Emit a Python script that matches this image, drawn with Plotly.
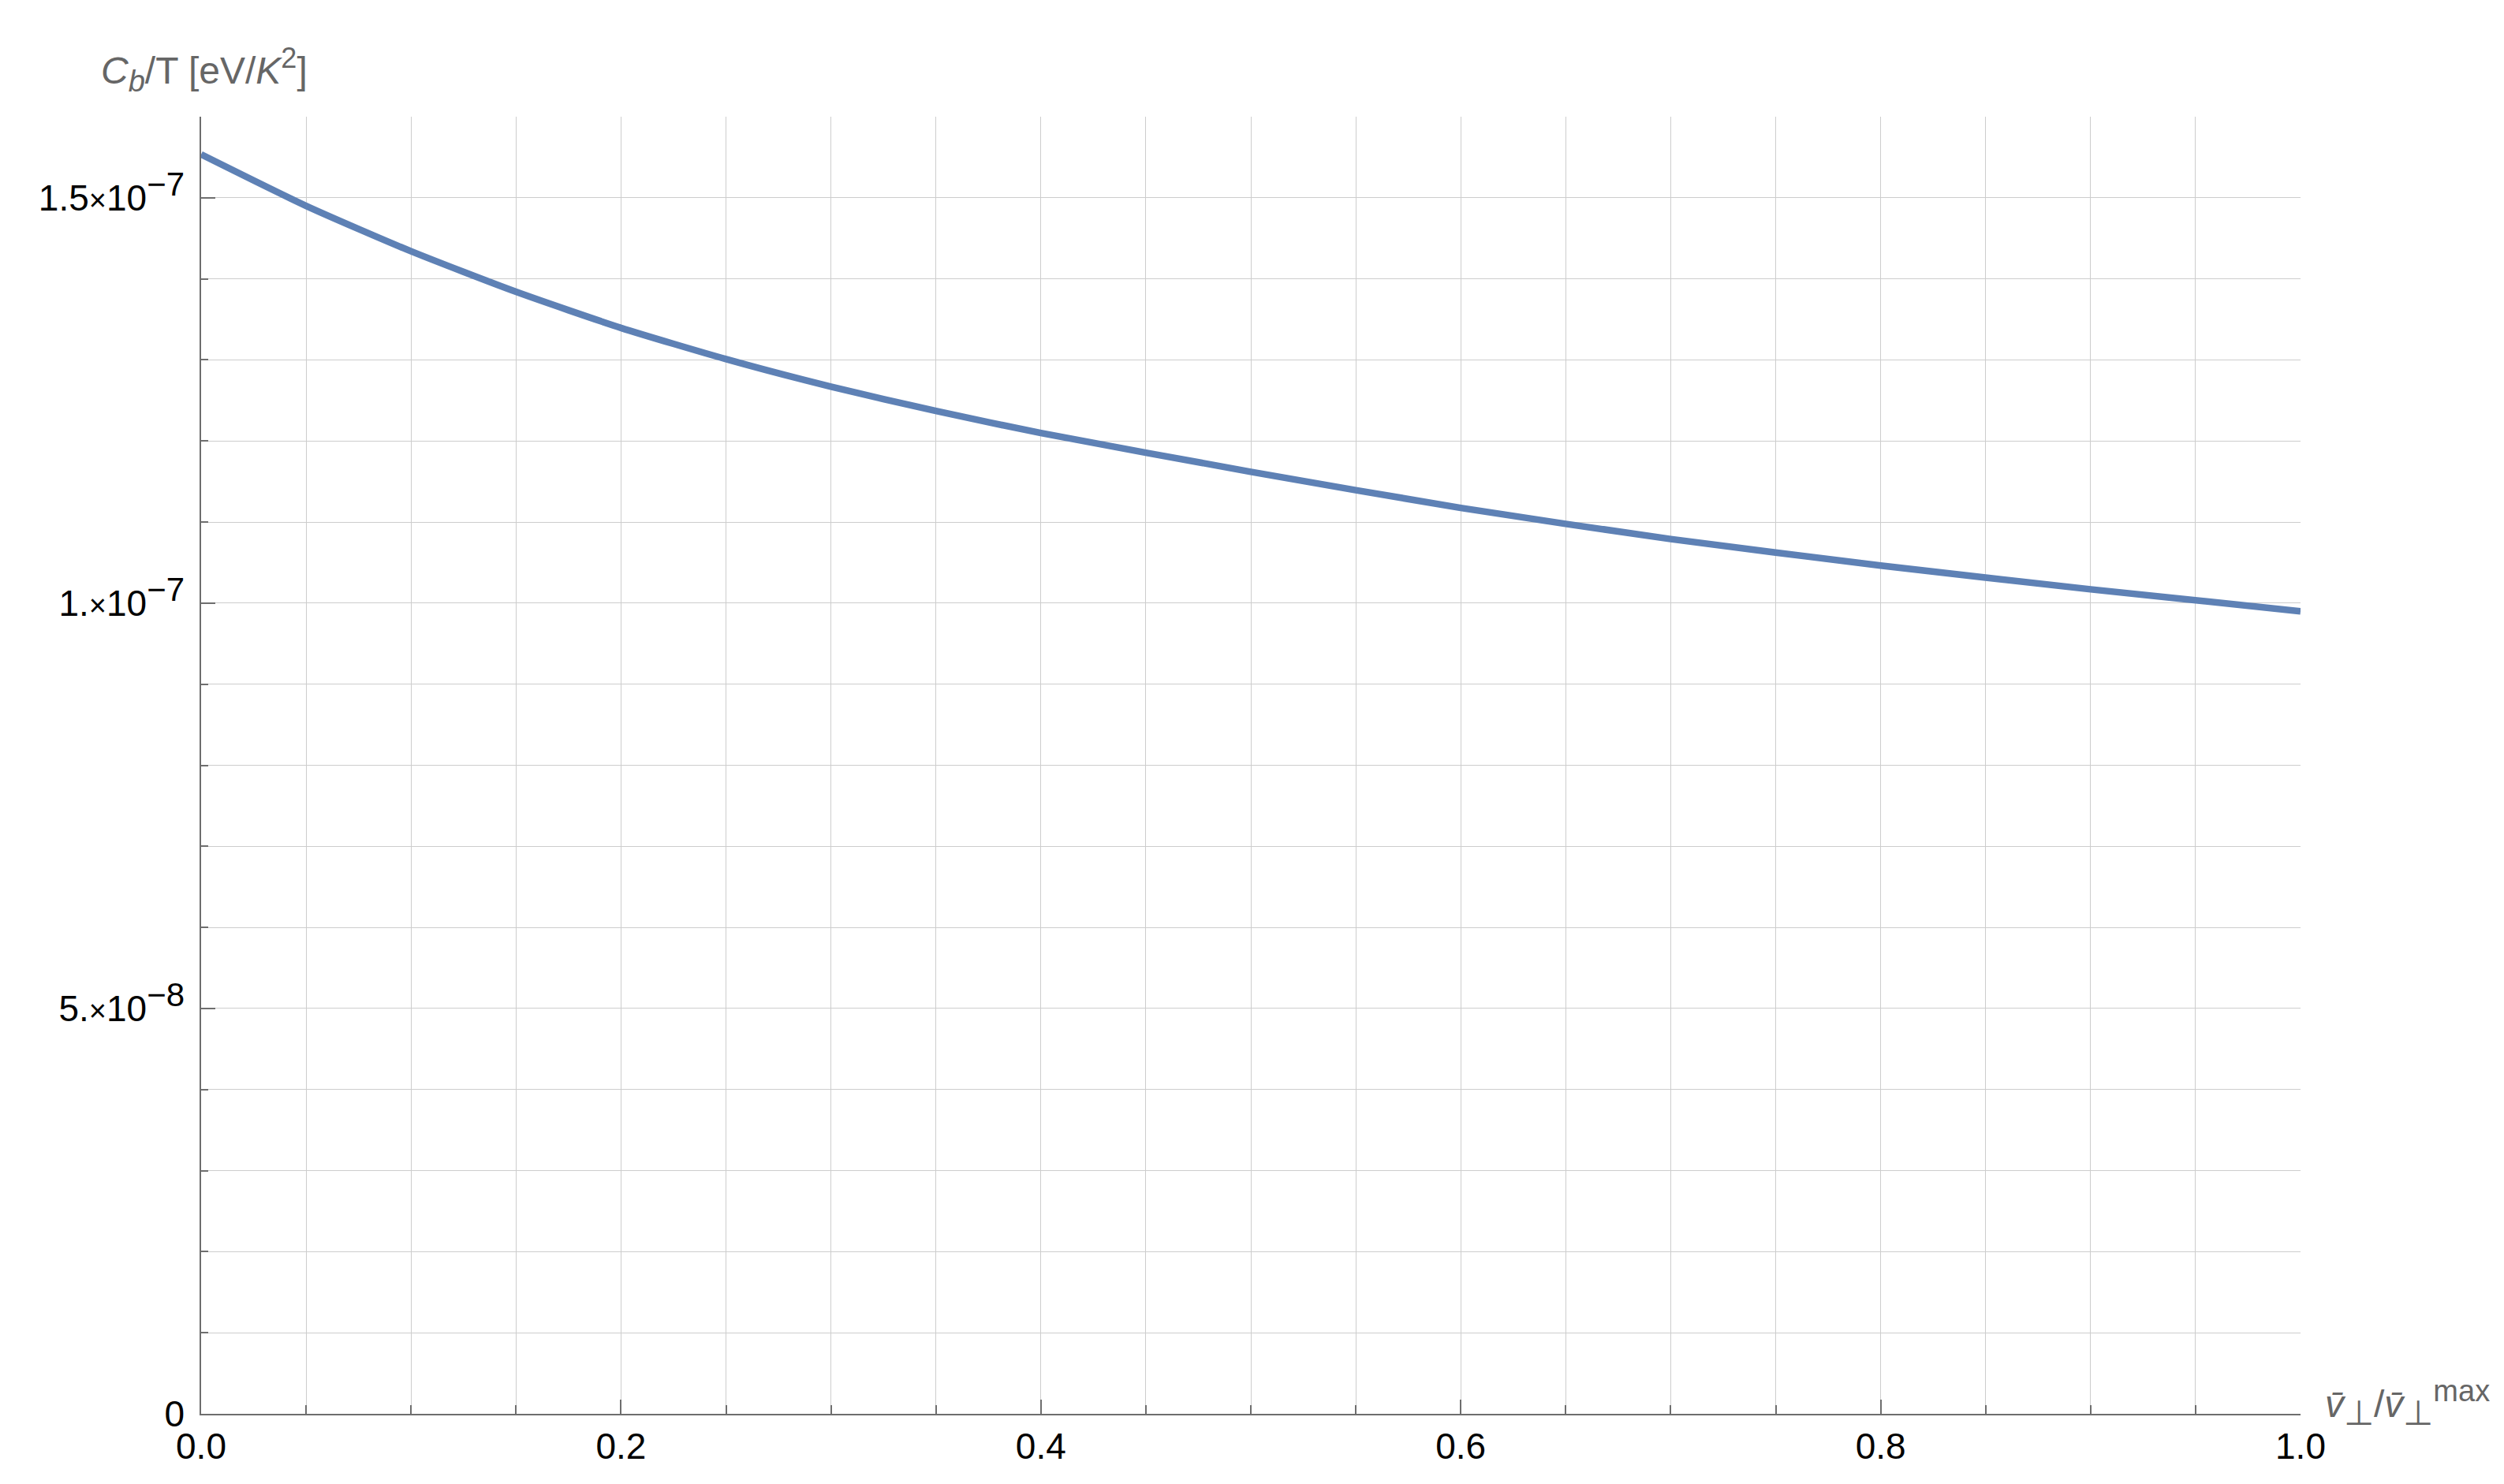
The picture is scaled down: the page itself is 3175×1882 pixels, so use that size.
"""Curva C_b/T em função de v_perp / v_perp^max (estilo Mathematica)."""

import plotly.graph_objects as go

# valores
X_VALS = [0.0, 0.05, 0.10, 0.15, 0.20, 0.25, 0.30, 0.35, 0.40,
          0.50, 0.60, 0.70, 0.80, 0.90, 1.00]
Y_VALS = [1.5535e-7, 1.490e-7, 1.434e-7, 1.384e-7, 1.3395e-7, 1.301e-7, 1.267e-7,
          1.237e-7, 1.2098e-7, 1.162e-7, 1.1174e-7, 1.079e-7, 1.0464e-7, 1.017e-7,
          0.990e-7]

Y_TICKVALS = [0, 5e-8, 1e-7, 1.5e-7]
X_TICKVALS = [0.0, 0.2, 0.4, 0.6, 0.8, 1.0]
X_TICKTEXT = ["0.0", "0.2", "0.4", "0.6", "0.8", "1.0"]

TIMES = '<span style="font-size:38px">\u00d7</span>'


def _sup(txt: str) -> str:
    return f'<sup><span style="font-size:42px">{txt}</span></sup>'


Y_TICKTEXT = [
    "0",
    f"5.{TIMES}10{_sup(chr(0x2212) + '8')}",
    f"1.{TIMES}10{_sup(chr(0x2212) + '7')}",
    f"1.5{TIMES}10{_sup(chr(0x2212) + '7')}",
]

LINE_COLOR = "#5E81B5"
GRID = "#cdcdcd"
AXIS = "#6e6e6e"
FONT = "Liberation Sans"

W, H = 3175, 1882
L, R, T, B = 247, 266, 140, 97   # a página desloca tudo 8 px (margem do body)

fig = go.Figure()
fig.add_trace(go.Scatter(
    x=X_VALS, y=Y_VALS, mode="lines",
    line=dict(color=LINE_COLOR, width=8.5, shape="spline", smoothing=0.6),
    hoverinfo="skip", showlegend=False,
))

fig.update_xaxes(
    range=[0, 1], tickmode="array", tickvals=X_TICKVALS, ticktext=X_TICKTEXT,
    ticks="inside", ticklen=18, tickwidth=1.5, tickcolor=AXIS,
    showgrid=True, gridcolor=GRID, gridwidth=1.3,
    showline=True, linecolor=AXIS, linewidth=1.5, zeroline=False,
    tickfont=dict(family=FONT, size=46, color="black"),
    minor=dict(tickmode="linear", tick0=0, dtick=0.05, ticks="inside", ticklen=11,
               tickcolor=AXIS, tickwidth=1.5, showgrid=True, gridcolor=GRID, gridwidth=1.3),
)
fig.update_yaxes(
    range=[0, 1.6e-7], tickmode="array", tickvals=Y_TICKVALS, ticktext=Y_TICKTEXT,
    ticks="inside", ticklen=18, tickwidth=1.5, tickcolor=AXIS,
    showgrid=True, gridcolor=GRID, gridwidth=1.3,
    showline=True, linecolor=AXIS, linewidth=1.5, zeroline=False,
    tickfont=dict(family=FONT, size=46, color="black"),
    ticklabelstandoff=10,
    minor=dict(tickmode="linear", tick0=0, dtick=1e-8, ticks="inside", ticklen=9,
               tickcolor=AXIS, tickwidth=1.5, showgrid=True, gridcolor=GRID, gridwidth=1.3),
)

PW, PH = W - L - R, H - T - B
fig.add_annotation(
    xref="paper", yref="paper", x=(118 - L) / PW, y=(H - B - 80) / PH,
    xanchor="left", yanchor="middle", showarrow=False,
    text=('<i>C</i><sub><span style="font-size:38px"><i>b</i></span></sub>'
          '/T [eV/<i>K</i><sup><span style="font-size:36px">2</span></sup>]'),
    font=dict(family=FONT, size=48, color="#666666"),
)
fig.add_annotation(
    xref="paper", yref="paper", x=(2938 - L) / PW, y=0.008,
    xanchor="left", yanchor="middle", showarrow=False,
    text=('<i>v\u0304</i><sub><span style="font-size:44px">\u22a5</span></sub>'
          '/<i>v\u0304</i><sub><span style="font-size:44px">\u22a5</span></sub>'
          '<sup><span style="font-size:38px">max</span></sup>'),
    font=dict(family=FONT, size=48, color="#666666"),
)

fig.update_layout(
    width=W, height=H,
    margin=dict(l=L, r=R, t=T, b=B),
    plot_bgcolor="white", paper_bgcolor="white",
    showlegend=False,
)

fig.write_html("out.html")
